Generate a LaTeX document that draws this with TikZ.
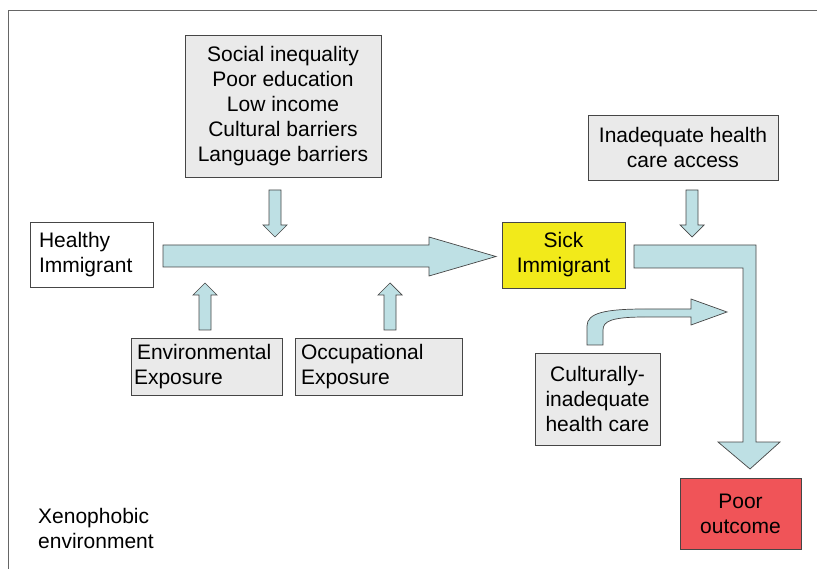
\documentclass[tikz,border=0pt]{standalone}
\usepackage{fontspec}
\setmainfont{Liberation Sans}
\definecolor{boxgray}{RGB}{234,234,234}
\definecolor{arrowblue}{RGB}{190,224,228}
\definecolor{sickyellow}{RGB}{242,234,26}
\definecolor{poorred}{RGB}{240,84,88}
\definecolor{edgegray}{RGB}{70,70,70}
\begin{document}
\begin{tikzpicture}[x=1pt,y=-1pt,
    every node/.style={font=\fontsize{21}{25}\selectfont},
    factor/.style={draw=edgegray,line width=0.8pt,fill=boxgray,inner sep=0pt,align=center},
    blockarrow/.style={draw=edgegray,line width=0.7pt,fill=arrowblue,line join=miter}]
      \useasboundingbox (0,0) rectangle (817,569);
      \draw[gray!80!black,line width=1pt] (8,569) -- (8,11) -- (817,11);

      \node[factor,minimum width=196pt,minimum height=142pt] (social) at (283,106)
        {Social inequality\\Poor education\\Low income\\Cultural barriers\\Language barriers};
      \node[factor,minimum width=190pt,minimum height=65pt] (access) at (683,147.5)
        {Inadequate health\\care access};
      \node[factor,fill=white,minimum height=65pt,text width=105pt,inner xsep=9pt,align=left] (healthy) at (91.5,254.5)
        {Healthy\\Immigrant};
      \node[factor,minimum height=57pt,text width=145pt,inner xsep=3pt,align=left] (env) at (206.5,366.5)
        {\hspace*{3pt}Environmental\\Exposure};
      \node[factor,minimum height=57pt,text width=155pt,inner xsep=6pt,align=left] (occ) at (378.5,366.5)
        {Occupational\\Exposure};
      \node[factor,fill=sickyellow,minimum width=123pt,minimum height=66pt] (sick) at (563.5,255)
        {\raisebox{-4pt}{Sick}\\\raisebox{-4pt}{Immigrant}};
      \node[factor,minimum width=125pt,minimum height=92pt] (cult) at (597.5,399)
        {Culturally-\\inadequate\\health care};
      \node[factor,fill=poorred,minimum width=121pt,minimum height=71pt] (poor) at (740.5,513.5)
        {Poor\\outcome};
      \node[align=left,inner sep=0pt,anchor=west] (xeno) at (38,528)
        {Xenophobic\\environment};

      % main flow
      \draw[blockarrow] (163,245) -- (429,245) -- (429,237) -- (496,256.5)
        -- (429,276) -- (429,267) -- (163,267) -- cycle;
      \draw[blockarrow] (634,245) -- (756,245) -- (756,442) -- (780,442) -- (750,469)
        -- (718,442) -- (743,442) -- (743,268) -- (634,268) -- cycle;

      % small arrows pushing down
      \foreach \x in {275,692}
      {\draw[blockarrow] (\x-6,190) -- (\x+6,190) -- (\x+6,225) -- (\x+12,225)
         -- (\x,237) -- (\x-12,225) -- (\x-6,225) -- cycle;};
      % small arrows pushing up
      \foreach \x in {205,390}
      {\draw[blockarrow] (\x-6,330) -- (\x+6,330) -- (\x+6,295) -- (\x+12,295)
         -- (\x,283) -- (\x-12,295) -- (\x-6,295) -- cycle;};

      % curved arrow from culturally-inadequate care
      \draw[blockarrow] (587,345) -- (587,326) .. controls (587,313) and (605,309) .. (645,309)
        -- (691,309) -- (691,299) -- (727,312) -- (691,325) -- (691,317) -- (645,317)
        .. controls (612,317) and (603,321) .. (603,330) -- (603,345) -- cycle;
    \end{tikzpicture}
\end{document}
